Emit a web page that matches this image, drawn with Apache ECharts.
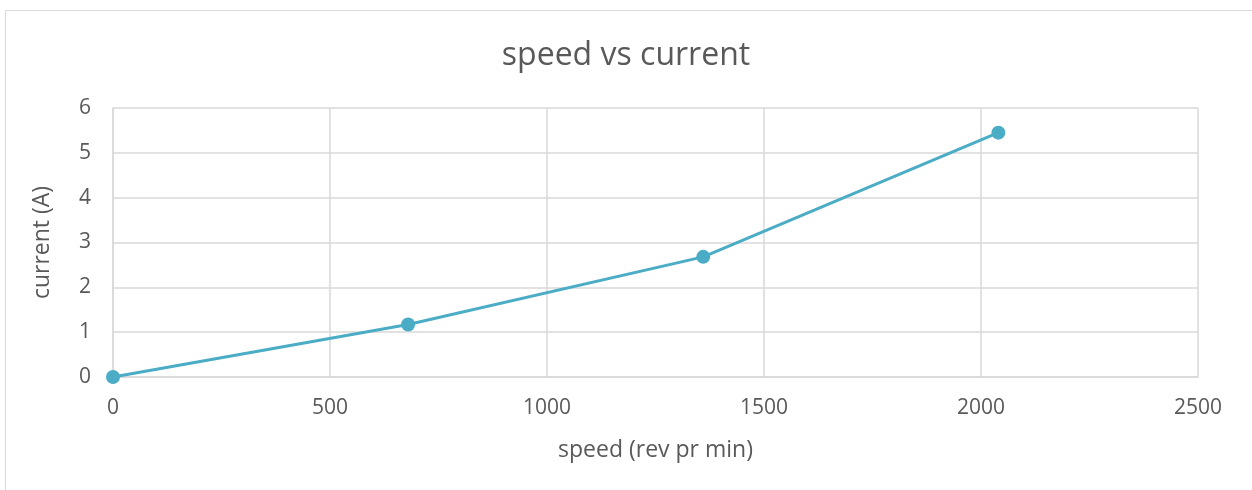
<!DOCTYPE html>
<html><head><meta charset="utf-8">
<script src="https://cdn.jsdelivr.net/npm/echarts@6/dist/echarts.min.js"></script>
<style>html,body{margin:0;padding:0;background:#fff}#c{width:1252px;height:490px}</style>
</head><body><div id="c"></div>
<script>
const speed = [0, 680, 1360, 2040];
const current = [0, 1.17, 2.68, 5.45];
const xTicks = [0, 500, 1000, 1500, 2000, 2500];
const yTicks = [0, 1, 2, 3, 4, 5, 6];

const font = '"Open Sans", "Liberation Sans", sans-serif';
const chart = echarts.init(document.getElementById('c'));
chart.setOption({
  animation: false,
  backgroundColor: '#fff',
  graphic: [{type:'rect', shape:{x:5.5,y:10.5,width:1260,height:500}, style:{fill:'none',stroke:'#D9D9D9',lineWidth:1}, silent:true}],
  title: {text:'speed vs current', left:'center', top:35, textStyle:{fontFamily:font, fontSize:32, fontWeight:'normal', color:'#595959'}},
  grid: {left:113, right:54, top:108, bottom:113},
  xAxis: {type:'value', min:xTicks[0], max:xTicks[xTicks.length-1], interval:500,
    name:'speed (rev pr min)', nameLocation:'middle', nameGap:62,
    nameTextStyle:{fontFamily:font, fontSize:23, color:'#595959'},
    axisLine:{show:true, lineStyle:{color:'#D9D9D9', width:1.5}}, axisTick:{show:false},
    axisLabel:{fontFamily:font, fontSize:21, color:'#595959', margin:21, formatter: v => String(v)},
    splitLine:{show:true, lineStyle:{color:'#D9D9D9', width:1.5}}},
  yAxis: {type:'value', min:yTicks[0], max:yTicks[yTicks.length-1], interval:1,
    name:'current (A)', nameLocation:'middle', nameGap:59,
    nameTextStyle:{fontFamily:font, fontSize:23, color:'#595959'},
    axisLine:{show:true, lineStyle:{color:'#D9D9D9', width:1.5}}, axisTick:{show:false},
    axisLabel:{fontFamily:font, fontSize:21, color:'#595959', margin:22, formatter: v => String(v)},
    splitLine:{show:true, lineStyle:{color:'#D9D9D9', width:1.5}}},
  series: [{type:'line', data: speed.map((s,i)=>[s,current[i]]),
    symbol:'circle', symbolSize:14, showAllSymbol:true,
    lineStyle:{color:'#4BACC6', width:3}, itemStyle:{color:'#4BACC6'}}]
});
</script></body></html>
